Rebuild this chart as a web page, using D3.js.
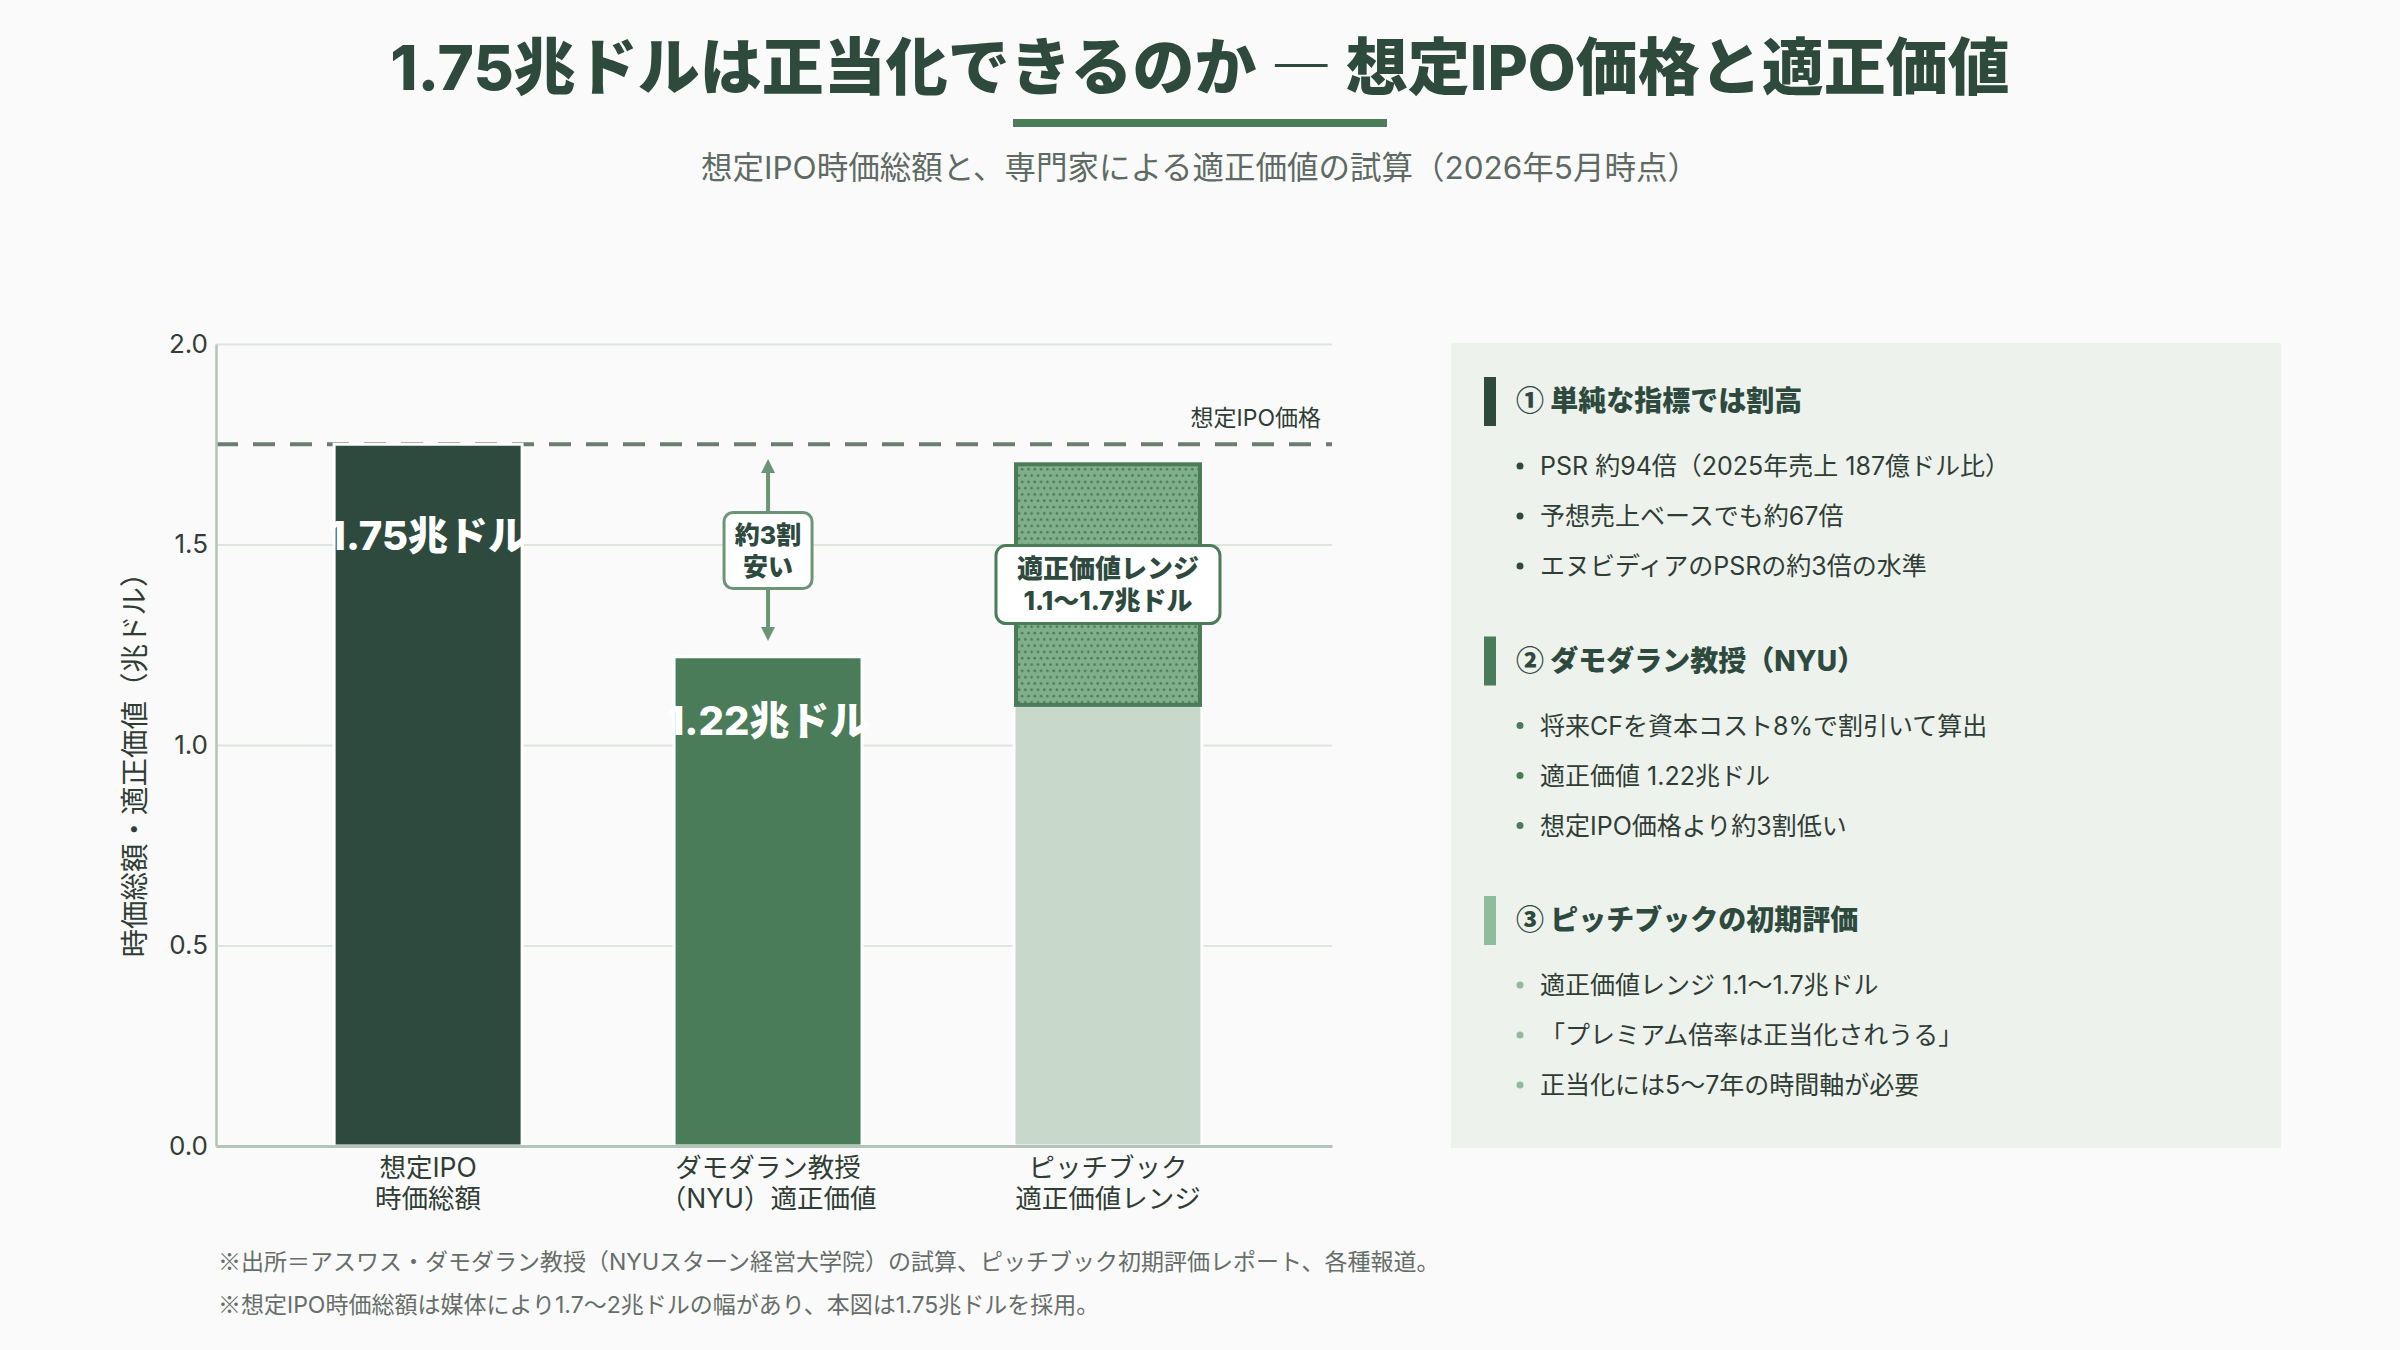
<!DOCTYPE html>
<html><head><meta charset="utf-8">
<script src="https://cdn.jsdelivr.net/npm/d3@7"></script>
<style>
html,body{margin:0;padding:0;background:#fafafa;}
svg{display:block;font-family:"Inter","Noto Sans CJK JP",sans-serif;}
</style></head><body>
<svg id="chart" width="2400" height="1350"></svg>
<script>
// ---------- data ----------
const categories = ["想定IPO\n時価総額", "ダモダラン教授\n（NYU）適正価値", "ピッチブック\n適正価値レンジ"];
const barValues = [1.75, 1.22, 1.1];
const barLabels = ["1.75兆ドル", "1.22兆ドル", ""];
const rangeLow = 1.1;
const rangeHigh = 1.7;
const rangeLabel = ["適正価値レンジ", "1.1〜1.7兆ドル"];
const ipoPrice = 1.75;
const ipoLabel = "想定IPO価格";
const gapLabel = ["約3割", "安い"];
const yTicks = [0, 0.5, 1.0, 1.5, 2.0];
const yTitle = "時価総額・適正価値（兆ドル）";
const titleText = "1.75兆ドルは正当化できるのか ― 想定IPO価格と適正価値";
const subtitleText = "想定IPO時価総額と、専門家による適正価値の試算（2026年5月時点）";
const sectionTitles = ["① 単純な指標では割高", "② ダモダラン教授（NYU）", "③ ピッチブックの初期評価"];
const sectionBullets = [
  ["PSR 約94倍（2025年売上 187億ドル比）", "予想売上ベースでも約67倍", "エヌビディアのPSRの約3倍の水準"],
  ["将来CFを資本コスト8%で割引いて算出", "適正価値 1.22兆ドル", "想定IPO価格より約3割低い"],
  ["適正価値レンジ 1.1〜1.7兆ドル", "「プレミアム倍率は正当化されうる」", "正当化には5〜7年の時間軸が必要"]
];
const footnotes = [
  "※出所＝アスワス・ダモダラン教授（NYUスターン経営大学院）の試算、ピッチブック初期評価レポート、各種報道。",
  "※想定IPO時価総額は媒体により1.7〜2兆ドルの幅があり、本図は1.75兆ドルを採用。"
];

// ---------- styles ----------
const FONT = '"Inter","Noto Sans CJK JP",sans-serif';
const CJK = '"Noto Sans CJK JP",sans-serif';
const barColors = ["#2e4a3e", "#4a7c59", "#c8d9cb"];
const sectionColors = ["#2e4a3e", "#4a7c59", "#8fbc9a"];
const dark = "#2e4a3e";
const textDark = "#2f3d35";

// write text with symbols rendered by the CJK font
const SYM = /([①②③※―〜])/;
function rich(sel, str) {
  str.split(SYM).filter(s => s.length).forEach(p => {
    const t = sel.append("tspan").text(p);
    if (SYM.test(p) && p.length === 1) t.attr("font-family", CJK);
  });
  return sel;
}

const svg = d3.select("#chart");
svg.append("rect").attr("width", 2400).attr("height", 1350).attr("fill", "#fafafa");

// defs: dot pattern & arrow markers
const defs = svg.append("defs");
const pat = defs.append("pattern").attr("id", "dots").attr("patternUnits", "userSpaceOnUse")
  .attr("width", 6.3).attr("height", 12.6);
pat.append("rect").attr("width", 6.3).attr("height", 12.6).attr("fill", "#80b08b");
pat.append("circle").attr("cx", 1.6).attr("cy", 3.1).attr("r", 1.35).attr("fill", "#4a7c59");
pat.append("circle").attr("cx", 4.75).attr("cy", 9.4).attr("r", 1.35).attr("fill", "#4a7c59");
["start", "end"].forEach(k => {
  const m = defs.append("marker").attr("id", "arr-" + k).attr("viewBox", "0 0 10 10")
    .attr("refX", 5).attr("refY", 5).attr("markerWidth", 3.6).attr("markerHeight", 3.6)
    .attr("orient", k === "start" ? "auto-start-reverse" : "auto").attr("markerUnits", "strokeWidth");
  m.append("path").attr("d", "M0,0 L10,5 L0,10 Z").attr("fill", "#6b9575");
});

// ---------- titles ----------
rich(svg.append("text").attr("x", 1200).attr("y", 90).attr("text-anchor", "middle")
  .attr("font-size", 62).attr("font-weight", 800).attr("fill", "#2d4a3d"), titleText);
svg.append("rect").attr("x", 1200 - 187).attr("y", 119).attr("width", 374).attr("height", 8).attr("fill", "#4a7c59");
svg.append("text").attr("x", 1200).attr("y", 179).attr("text-anchor", "middle")
  .attr("font-size", 31.5).attr("fill", "#5d6b63").text(subtitleText);

// ---------- scales ----------
const x = d3.scaleBand().domain(categories).range([216, 1332])
  .paddingInner(0.447).paddingOuter(0.365).align(0.476);
const y = d3.scaleLinear().domain([0, 2]).range([1146, 344]);

// grid
svg.append("g").attr("transform", "translate(216,0)")
  .call(d3.axisLeft(y).tickValues(yTicks).tickSize(-1116).tickFormat(""))
  .call(g => g.select(".domain").remove())
  .call(g => g.selectAll("line").attr("stroke", "#dde5df").attr("stroke-width", 2));

// dashed IPO line
svg.append("line").attr("x1", 216).attr("x2", 1332).attr("y1", y(ipoPrice)).attr("y2", y(ipoPrice))
  .attr("stroke", "#6a7d6f").attr("stroke-width", 4).attr("stroke-dasharray", "22,15");
svg.append("text").attr("x", 1321).attr("y", y(ipoPrice) - 18).attr("text-anchor", "end")
  .attr("font-size", 23).attr("fill", textDark).text(ipoLabel);

// bars
svg.append("g").selectAll("rect").data(categories).join("rect")
  .attr("x", d => x(d)).attr("width", x.bandwidth())
  .attr("y", (d, i) => y(barValues[i])).attr("height", (d, i) => y(0) - y(barValues[i]))
  .attr("fill", (d, i) => barColors[i]).attr("stroke", "#ffffff").attr("stroke-width", 3);

// range rect
svg.append("rect").attr("x", x(categories[2]) + 2).attr("width", x.bandwidth() - 4)
  .attr("y", y(rangeHigh)).attr("height", y(rangeLow) - y(rangeHigh))
  .attr("fill", "url(#dots)").attr("stroke", "#4a7c59").attr("stroke-width", 4);

// bar value labels
svg.append("g").selectAll("text").data(categories).join("text")
  .attr("x", d => x(d) + x.bandwidth() / 2)
  .attr("y", (d, i) => y(barValues[i] * 0.87))
  .attr("dy", "0.36em").attr("text-anchor", "middle")
  .attr("font-size", 40).attr("font-weight", 800).attr("fill", "#ffffff")
  .text((d, i) => barLabels[i]);

// gap arrow
const ax = x(categories[1]) + x.bandwidth() / 2;
const aTop = y(ipoPrice) + 12, aBot = y(barValues[1]) - 13;
svg.append("line").attr("x1", ax).attr("x2", ax).attr("y1", aTop + 10).attr("y2", aBot - 10)
  .attr("stroke", "#6b9575").attr("stroke-width", 4)
  .attr("marker-start", "url(#arr-start)").attr("marker-end", "url(#arr-end)");
const aMid = (y(ipoPrice) + y(barValues[1])) / 2;
svg.append("rect").attr("x", ax - 44).attr("y", aMid - 38).attr("width", 88).attr("height", 76)
  .attr("rx", 9).attr("fill", "#ffffff").attr("stroke", "#6b9575").attr("stroke-width", 3);
svg.append("text").attr("text-anchor", "middle").attr("font-size", 25).attr("font-weight", 800).attr("fill", dark)
  .selectAll("tspan").data(gapLabel).join("tspan")
  .attr("x", ax).attr("y", (d, i) => aMid - 16 + i * 32).attr("dy", "0.36em").text(d => d);

// range label
const rx = x(categories[2]) + x.bandwidth() / 2;
const rMid = y((rangeLow + rangeHigh) / 2);
svg.append("rect").attr("x", rx - 112).attr("y", rMid - 39).attr("width", 224).attr("height", 78)
  .attr("rx", 10).attr("fill", "#ffffff").attr("stroke", "#4a7c59").attr("stroke-width", 3);
svg.append("text").attr("text-anchor", "middle").attr("font-size", 26).attr("font-weight", 800).attr("fill", dark)
  .selectAll("tspan").data(rangeLabel).join("tspan")
  .attr("x", rx).attr("y", (d, i) => rMid - 16 + i * 32).attr("dy", "0.36em").text(d => d);

// axes
svg.append("g").attr("transform", "translate(216,0)")
  .call(d3.axisLeft(y).tickValues(yTicks).tickSize(0).tickPadding(8).tickFormat(d3.format(".1f")))
  .call(g => g.select(".domain").attr("stroke", "#b5c4b9").attr("stroke-width", 2.5))
  .call(g => g.selectAll("text").attr("font-size", 26).attr("fill", "#333d37").attr("font-family", FONT));

const xAxis = svg.append("g").attr("transform", `translate(0,${y(0)})`)
  .call(d3.axisBottom(x).tickSize(0).tickPadding(0).tickFormat(""))
  .call(g => g.select(".domain").attr("stroke", "#b5c4b9").attr("stroke-width", 3));
xAxis.selectAll(".tick").each(function (d) {
  const t = d3.select(this).append("text").attr("fill", textDark).attr("font-size", 26.5)
    .attr("text-anchor", "middle").attr("font-family", FONT);
  d.split("\n").forEach((line, i) => {
    t.append("tspan").attr("x", 0).attr("y", 21 + i * 31).attr("dy", "0.36em").text(line);
  });
});

// y title
svg.append("text").attr("transform", `translate(135,${(y(0) + y(2)) / 2 + 13}) rotate(-90)`)
  .attr("text-anchor", "middle").attr("dy", "0.36em").attr("font-size", 28.5).attr("fill", textDark).text(yTitle);

// footnotes
footnotes.forEach((f, i) => {
  rich(svg.append("text").attr("x", 218).attr("y", 1262 + i * 43).attr("dy", "0.36em")
    .attr("font-size", 23).attr("fill", "#666e69"), f);
});

// ---------- right panel ----------
svg.append("rect").attr("x", 1451).attr("y", 343).attr("width", 830).attr("height", 805).attr("fill", "#edf2ed");
sectionTitles.forEach((t, s) => {
  const hy = 401 + s * 259.5;
  svg.append("rect").attr("x", 1484).attr("y", hy - 24).attr("width", 12).attr("height", 49).attr("fill", sectionColors[s]);
  rich(svg.append("text").attr("x", 1516).attr("y", hy).attr("dy", "0.36em").attr("font-size", 28)
    .attr("font-weight", 800).attr("fill", dark), t);
  sectionBullets[s].forEach((b, j) => {
    const by = hy + 65 + j * 50;
    svg.append("circle").attr("cx", 1520).attr("cy", by).attr("r", 3.5).attr("fill", sectionColors[s]);
    rich(svg.append("text").attr("x", 1540).attr("y", by).attr("dy", "0.36em").attr("font-size", 25)
      .attr("fill", textDark), b);
  });
});
</script>
</body></html>
